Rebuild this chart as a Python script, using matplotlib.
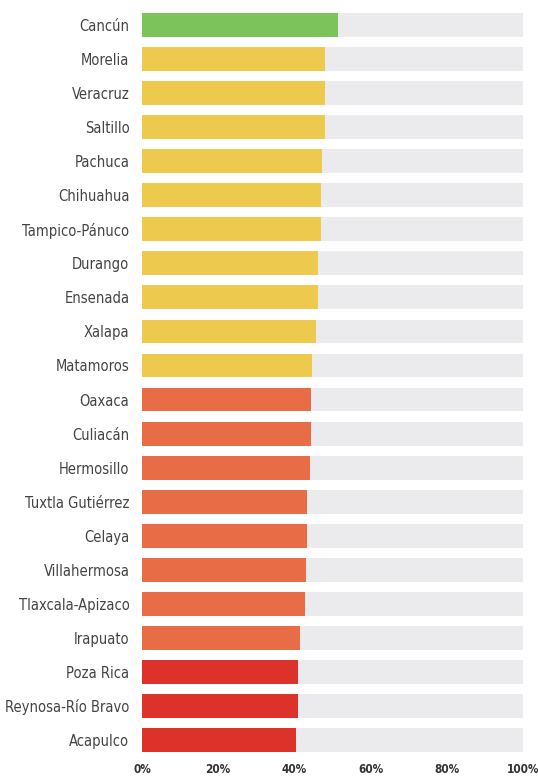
import matplotlib
matplotlib.use("Agg")
import matplotlib.pyplot as plt

# ciudades de arriba hacia abajo
cities = ["Cancún", "Morelia", "Veracruz", "Saltillo", "Pachuca", "Chihuahua",
          "Tampico-Pánuco", "Durango", "Ensenada", "Xalapa", "Matamoros",
          "Oaxaca", "Culiacán", "Hermosillo", "Tuxtla Gutiérrez", "Celaya",
          "Villahermosa", "Tlaxcala-Apizaco", "Irapuato", "Poza Rica",
          "Reynosa-Río Bravo", "Acapulco"]
values = [51.4, 48.0, 48.0, 48.0, 47.2, 47.0, 47.0, 46.2, 46.2, 45.7, 44.6,
          44.4, 44.4, 44.1, 43.3, 43.3, 43.0, 42.8, 41.5, 40.9, 40.9, 40.4]
groups = ["verde"] + ["amarillo"] * 10 + ["naranja"] * 8 + ["rojo"] * 3
ticks = [0, 20, 40, 60, 80, 100]

colors = {"verde": "#7dc35b", "amarillo": "#edc94d",
          "naranja": "#e86c46", "rojo": "#dc3229"}

plt.rcParams['font.family'] = ['DejaVu Sans']
plt.rcParams['font.stretch'] = 'condensed'

fig = plt.figure(figsize=(5.38, 7.77), dpi=100)
ax = fig.add_axes([0.2639, 0.0257, 0.7082, 0.9640])

y = list(range(len(cities)))
ax.barh(y, [100] * len(cities), height=0.7, color="#ebebed")
ax.barh(y, values, height=0.7, color=[colors[g] for g in groups])

ax.set_xlim(0, 100)
ax.set_ylim(len(cities) - 0.5, -0.5)
ax.set_yticks(y)
ax.set_yticklabels(cities, fontsize=10.5, color="#444444", fontstretch="condensed")
ax.set_xticks(ticks)
ax.set_xticklabels([f"{t}%" for t in ticks], fontsize=8.5,
                   fontweight="bold", color="#333333", fontstretch="condensed")
ax.tick_params(axis="both", length=0)
ax.tick_params(axis="y", pad=9)
ax.tick_params(axis="x", pad=4)
for s in ax.spines.values():
    s.set_visible(False)

fig.savefig("out.png", dpi=100)
